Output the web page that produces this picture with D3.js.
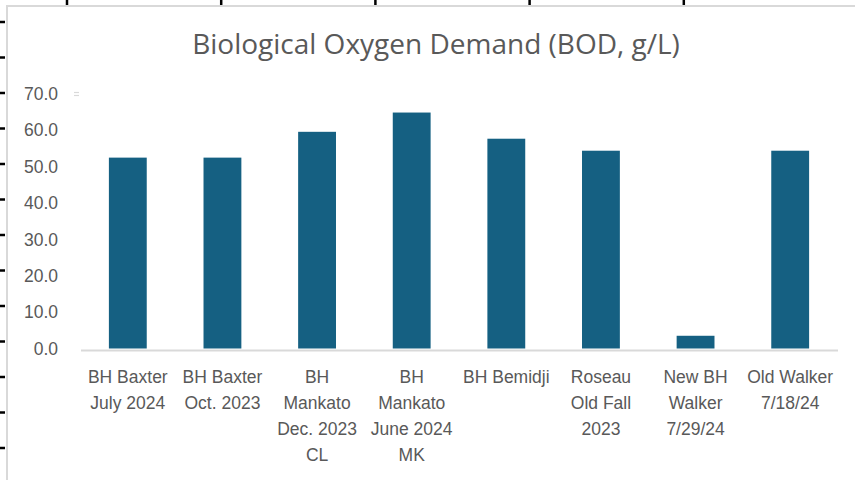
<!DOCTYPE html>
<html>
<head>
<meta charset="utf-8">
<script src="https://cdn.jsdelivr.net/npm/d3@7"></script>
<style>
  html, body { margin: 0; padding: 0; background: #fff; }
  svg { display: block; font-family: "Open Sans", "Noto Sans", sans-serif; }
</style>
</head>
<body>
<svg id="chart"></svg>
<script>
// chart data
const categories = [
  ["BH Baxter", "July 2024"],
  ["BH Baxter", "Oct. 2023"],
  ["BH", "Mankato", "Dec. 2023", "CL"],
  ["BH", "Mankato", "June 2024", "MK"],
  ["BH Bemidji"],
  ["Roseau", "Old Fall", "2023"],
  ["New BH", "Walker", "7/29/24"],
  ["Old Walker", "7/18/24"]
];
const bodValues = [52.5, 52.5, 59.6, 64.9, 57.7, 54.4, 3.5, 54.4];
const yTicks = [0, 10, 20, 30, 40, 50, 60, 70];
const title = "Biological Oxygen Demand (BOD, g/L)";

const W = 855, H = 480;
const margin = { top: 94, right: 17, bottom: 131, left: 80 };

const svg = d3.select("#chart")
  .attr("width", W)
  .attr("height", H);

// spreadsheet frame behind the chart
svg.append("line")
  .attr("x1", 7).attr("x2", 7).attr("y1", 6).attr("y2", H)
  .attr("stroke", "#d9d9d9").attr("stroke-width", 2);
svg.append("line")
  .attr("x1", 6).attr("x2", W).attr("y1", 6).attr("y2", 6)
  .attr("stroke", "#d9d9d9").attr("stroke-width", 2);

// row / column border stubs
d3.range(13).forEach(i => {
  svg.append("line")
    .attr("x1", 0).attr("x2", 5)
    .attr("y1", 22 + i * 35.5).attr("y2", 22 + i * 35.5)
    .attr("stroke", "#000").attr("stroke-width", 2.5);
});
d3.range(5).forEach(i => {
  svg.append("line")
    .attr("x1", 67 + i * 154.2).attr("x2", 67 + i * 154.2)
    .attr("y1", 0).attr("y2", 5)
    .attr("stroke", "#000").attr("stroke-width", 2.5);
});

// scales
const x = d3.scaleBand()
  .domain(d3.range(categories.length))
  .range([margin.left + 0.5, W - margin.right - 0.5])
  .paddingInner(0.6)
  .paddingOuter(0.3);

const y = d3.scaleLinear()
  .domain([0, 70])
  .range([H - margin.bottom - 0.5, margin.top]);

// title
svg.append("text")
  .attr("x", 436)
  .attr("y", 54)
  .attr("text-anchor", "middle")
  .attr("fill", "#595959")
  .style("font-size", "28px")
  .text(title);

// y axis labels (no axis line)
const yAxis = svg.append("g")
  .attr("transform", `translate(${margin.left},0)`)
  .call(d3.axisLeft(y).tickValues(yTicks).tickFormat(d3.format(".1f")).tickSize(0).tickPadding(22));
yAxis.select(".domain").remove();
yAxis.selectAll("text")
  .attr("fill", "#595959")
  .style("font-size", "17.5px")
  .style("font-family", "Liberation Sans, Arial, sans-serif");

// small marker next to top tick
[-1.5, 1.5].forEach(dy => {
  svg.append("line")
    .attr("x1", 74).attr("x2", 79)
    .attr("y1", y(70) + dy).attr("y2", y(70) + dy)
    .attr("stroke", "#d9d9d9").attr("stroke-width", 1.2);
});

// bars
svg.selectAll("rect.bar")
  .data(bodValues)
  .enter()
  .append("rect")
  .attr("class", "bar")
  .attr("x", (d, i) => x(i))
  .attr("y", d => y(d))
  .attr("width", x.bandwidth())
  .attr("height", d => y(0) - y(d))
  .attr("fill", "#156082");

// category axis
const xAxis = svg.append("g")
  .attr("transform", `translate(0,${y(0) + 1.5})`)
  .call(d3.axisBottom(x).tickSize(0).tickFormat(""));
xAxis.select(".domain")
  .attr("stroke", "#d9d9d9")
  .attr("stroke-width", 2);

xAxis.selectAll(".tick").each(function(i) {
  const t = d3.select(this).append("text")
    .attr("text-anchor", "middle")
    .attr("fill", "#595959")
    .style("font-size", "17.5px");
  categories[i].forEach((line, k) => {
    t.append("tspan")
      .attr("x", 0)
      .attr("y", 32.5 + k * 26)
      .text(line);
  });
});
</script>
</body>
</html>
